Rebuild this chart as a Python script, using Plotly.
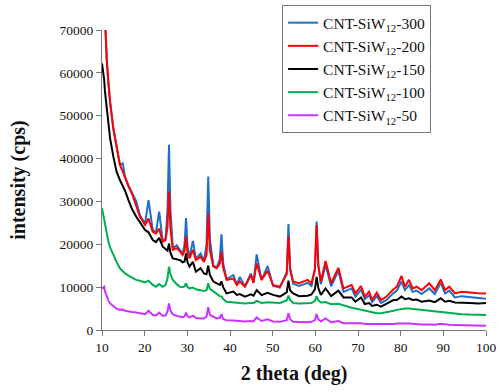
import plotly.graph_objects as go

two_theta = [10.0, 10.5, 10.7, 11.1, 11.5, 11.9, 12.65, 13.4, 14.2, 14.85, 15.4, 16.2, 17.0, 18.0, 18.9,
             20.1, 20.9, 21.9, 22.65, 23.4, 24.2, 24.9, 25.35, 25.7, 26.05, 26.6, 27.5, 28.3, 28.9, 29.35,
             29.7, 30.05, 30.5, 31.3, 32.0, 33.1, 33.9, 34.5, 34.9, 35.3, 36.1, 36.9, 37.6, 38.0, 38.4,
             39.2, 40.8, 41.6, 42.3, 43.5, 44.9, 45.5, 46.25, 47.4, 48.8, 50.1, 51.7, 53.3, 53.7, 54.1,
             54.8, 56.2, 58.2, 59.1, 59.9, 60.3, 60.7, 61.3, 62.4, 63.7, 65.4, 66.6, 68.5, 69.4, 70.7,
             71.6, 72.6, 73.3, 74.4, 75.4, 76.7, 78.3, 79.1, 80.2, 81.0, 81.95, 82.8, 83.75, 84.9, 86.7,
             88.0, 89.4, 90.4, 91.4, 92.7, 94.3, 96.2, 98.2, 100.0]

cnt_300 = [90000, 78000, 71000, 63000, 57500, 53000, 47000, 42400, 38500, 38900, 35800, 33700, 32000, 30100, 26800,
           24800, 30300, 23300, 22800, 27600, 20900, 21300, 28000, 43200, 28000, 19000, 19800, 18700, 17800, 20000,
           26100, 19500, 17000, 20800, 16600, 17900, 16100, 20000, 35800, 21000, 15000, 14600, 16500, 22300, 15500,
           11900, 12800, 10600, 12400, 10200, 13200, 11000, 17650, 11700, 14900, 10300, 9900, 13500, 24700, 14500,
           10800, 10300, 11000, 10300, 14500, 25300, 15000, 10700, 15200, 10200, 13800, 8900, 9700, 7800, 9400,
           7200, 8100, 6500, 7900, 6300, 7000, 8600, 9200, 11300, 9300, 10500, 8900, 9200, 8400, 9700,
           8400, 11000, 8500, 9200, 7600, 7900, 7700, 7400, 7300]

cnt_200 = [90000, 78000, 71000, 63500, 57900, 53300, 47100, 42400, 38500, 37000, 35500, 33500, 31900, 29200, 26400,
           24500, 26000, 22900, 22550, 23700, 20600, 21000, 24000, 32300, 23500, 18700, 19100, 18300, 17500, 18500,
           21800, 18000, 16700, 18700, 16300, 17100, 15900, 17500, 27200, 18500, 14800, 14400, 15500, 18300, 14500,
           11700, 12000, 10500, 11300, 10100, 12800, 11000, 15550, 11700, 13800, 10500, 10100, 13000, 21900, 14000,
           11300, 10900, 11700, 10900, 14000, 24500, 15000, 11300, 16100, 10900, 14500, 9700, 10500, 8550, 10270,
           7800, 8950, 7000, 8700, 7000, 7800, 9500, 10100, 12600, 10100, 11700, 9700, 10100, 9300, 10900,
           9300, 11800, 9300, 10100, 8550, 8900, 8700, 8550, 8500]

cnt_150 = [62200, 58500, 55600, 51700, 47800, 44700, 40500, 37000, 35000, 33700, 32500, 30300, 28300, 26500, 25000,
           23300, 22800, 21000, 20500, 21500, 19500, 19000, 18500, 20200, 18000, 16700, 16500, 16300, 15800, 16000,
           17900, 15800, 14800, 15900, 13600, 14400, 13200, 13000, 15000, 12800, 11300, 10800, 10500, 11300, 10000,
           8550, 8950, 8200, 8400, 7800, 8300, 8000, 9300, 8150, 8700, 8200, 7800, 8800, 11500, 9200,
           8550, 7900, 8000, 8300, 9500, 12400, 9800, 8200, 9700, 7900, 9170, 7600, 7600, 6600, 7600,
           6070, 6300, 5600, 5900, 5450, 6100, 7000, 7000, 7800, 7200, 7400, 7000, 7100, 6600, 6900,
           6500, 7400, 6600, 6800, 6400, 6400, 6300, 6200, 6300]

cnt_100 = [28400, 25800, 24100, 22200, 20600, 19300, 17500, 15900, 14400, 13700, 13200, 12700, 12300, 11700, 11500,
           11100, 11500, 10500, 10100, 10700, 10100, 10500, 12000, 14800, 13000, 11700, 10700, 10100, 10000, 10200,
           10900, 10000, 9700, 9900, 9500, 9300, 9100, 9300, 10900, 9600, 8950, 8300, 7900, 7800, 7200,
           6600, 6400, 6300, 6300, 6200, 6300, 6300, 6800, 6300, 6500, 6400, 6300, 6900, 8000, 7000,
           6300, 6200, 6200, 6300, 6800, 7900, 6900, 6400, 6500, 6000, 6100, 5700, 5200, 5000, 4700,
           4500, 4200, 4000, 3900, 3900, 4100, 4500, 4700, 4900, 5000, 5000, 4900, 4800, 4700, 4500,
           4300, 4200, 4100, 4000, 3900, 3700, 3600, 3500, 3500]

cnt_50 = [9700, 10100, 9000, 7800, 6900, 6200, 5500, 5000, 4700, 4800, 4500, 4300, 4200, 4100, 3900,
          3700, 4500, 3500, 3400, 4050, 3350, 3400, 4300, 6200, 4500, 3650, 3300, 3100, 3000, 3200,
          4050, 3200, 2950, 3350, 2800, 2700, 2700, 3100, 5300, 3500, 3000, 2700, 2800, 3700, 2600,
          2300, 2200, 2100, 2100, 2000, 2100, 2000, 2950, 2100, 2500, 2000, 1900, 2300, 3900, 2500,
          1900, 1800, 1800, 1900, 2300, 3700, 2500, 2000, 2700, 1800, 2100, 1600, 1600, 1500, 1600,
          1400, 1400, 1300, 1300, 1300, 1300, 1400, 1500, 1600, 1500, 1500, 1400, 1400, 1300, 1300,
          1250, 1450, 1250, 1200, 1150, 1100, 1050, 1000, 1000]

series = [
    ("CNT-SiW<sub>12</sub>-300", cnt_300, "#1F6FC8"),
    ("CNT-SiW<sub>12</sub>-200", cnt_200, "#FF0000"),
    ("CNT-SiW<sub>12</sub>-150", cnt_150, "#000000"),
    ("CNT-SiW<sub>12</sub>-100", cnt_100, "#00B050"),
    ("CNT-SiW<sub>12</sub>-50", cnt_50, "#CC33FF"),
]

x_ticks = [10, 20, 30, 40, 50, 60, 70, 80, 90, 100]
y_ticks = [0, 10000, 20000, 30000, 40000, 50000, 60000, 70000]

fig = go.Figure()
for name, vals, color in series:
    fig.add_trace(go.Scatter(x=two_theta, y=vals, mode="lines", name=name,
                             line=dict(color=color, width=2)))

serif = "Liberation Serif, serif"
tick_font = dict(family=serif, size=13.5, color="#111")
title_font = dict(family=serif, size=20, color="#111")
fig.update_layout(
    width=500, height=392,
    margin=dict(l=102, r=14, t=30, b=62, autoexpand=False),
    paper_bgcolor="white", plot_bgcolor="white",
    font=dict(family=serif, size=14, color="#111"),
    legend=dict(x=0.469, y=1.083, xanchor="left", yanchor="top",
                bordercolor="#777", borderwidth=1, bgcolor="white",
                font=dict(family=serif, size=15.5, color="#111"),
                tracegroupgap=0, itemwidth=30),
    xaxis=dict(range=[10, 100], tickvals=x_ticks, tickformat="d", showgrid=False, zeroline=False,
               showline=True, linecolor="#777", linewidth=1, automargin=False,
               ticks="outside", ticklen=5, tickcolor="#777", tickfont=tick_font,
               title=dict(text="<b>2 theta (deg)</b>", font=title_font, standoff=11)),
    yaxis=dict(range=[0, 70000], tickvals=y_ticks, tickformat="d", showgrid=False, zeroline=False,
               showline=True, linecolor="#777", linewidth=1, automargin=False,
               ticks="outside", ticklen=5, tickcolor="#777", tickfont=tick_font,
               title=dict(text="<b>intensity (cps)</b>", font=title_font, standoff=28)),
)
fig.write_html("out.html", config={"displayModeBar": False},
               post_script="document.body.style.margin='0px';")
